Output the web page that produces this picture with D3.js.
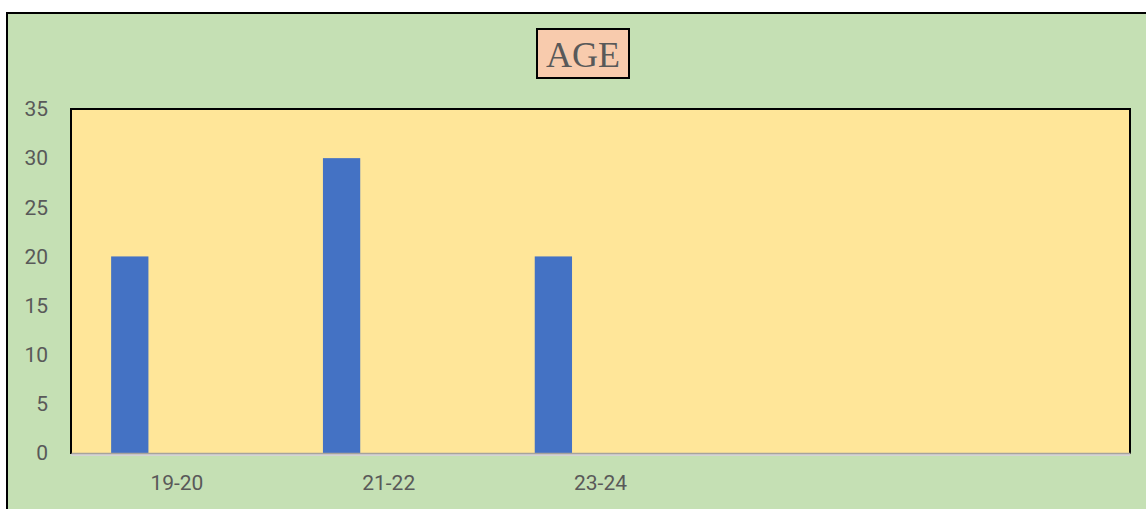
<!DOCTYPE html>
<html>
<head>
<meta charset="utf-8">
<script src="https://cdn.jsdelivr.net/npm/d3@7"></script>
<style>
  html, body { margin: 0; padding: 0; background: #fff; }
  svg { display: block; }
</style>
</head>
<body>
<div id="chart"></div>
<script>
// age groups on the x axis (last two slots are empty in the source sheet)
const ageGroups = ['19-20', '21-22', '23-24', '', ''];
const counts = [20, 30, 20, null, null];
const yTicks = [0, 5, 10, 15, 20, 25, 30, 35];
const title = 'AGE';

const width = 1146;
const height = 509;
const plot = { left: 71, right: 1130, top: 109, bottom: 453 };

const svg = d3
  .select('#chart')
  .append('svg')
  .attr('width', width)
  .attr('height', height)
  .attr('viewBox', [0, 0, width, height]);

// outer chart area (runs off the right and bottom edges)
svg
  .append('rect')
  .attr('x', 7)
  .attr('y', 13)
  .attr('width', width + 20)
  .attr('height', height + 20)
  .attr('fill', '#C5E0B4')
  .attr('stroke', '#000')
  .attr('stroke-width', 2);

const x = d3
  .scaleBand()
  .domain(ageGroups.map((d, i) => i))
  .range([plot.left, plot.right])
  .padding(0);

// single series sits left of centre in each slot, like the excel clustered column
const xInner = d3
  .scaleBand()
  .domain(['count'])
  .range([0, x.bandwidth()])
  .paddingInner(0)
  .paddingOuter(2.34)
  .align(0.23);

const y = d3.scaleLinear().domain([0, 35]).range([plot.bottom, plot.top]);

// plot area
svg
  .append('rect')
  .attr('x', plot.left)
  .attr('y', plot.top)
  .attr('width', plot.right - plot.left)
  .attr('height', plot.bottom - plot.top)
  .attr('fill', '#FFE699');

svg
  .append('g')
  .selectAll('rect')
  .data(counts.map((v, i) => ({ i, v })).filter((d) => d.v != null))
  .join('rect')
  .attr('x', (d) => x(d.i) + xInner('count'))
  .attr('width', xInner.bandwidth())
  .attr('y', (d) => y(d.v))
  .attr('height', (d) => y(0) - y(d.v))
  .attr('fill', '#4472C4');

// plot border: black on top/left/right
svg
  .append('path')
  .attr(
    'd',
    `M${plot.left},${plot.bottom + 1}V${plot.top}H${plot.right}V${plot.bottom + 1}`,
  )
  .attr('fill', 'none')
  .attr('stroke', '#000')
  .attr('stroke-width', 2);

// soft shadow under the axis line
svg
  .append('line')
  .attr('x1', plot.left)
  .attr('x2', plot.right)
  .attr('y1', plot.bottom + 2)
  .attr('y2', plot.bottom + 2)
  .attr('stroke', '#D4D4D4')
  .attr('stroke-width', 2);

const xAxis = svg
  .append('g')
  .attr('transform', `translate(0,${plot.bottom})`)
  .call(
    d3
      .axisBottom(x)
      .tickSize(0)
      .tickPadding(22)
      .tickFormat((i) => ageGroups[i]),
  );
xAxis.select('.domain').attr('stroke', '#A6A39C').attr('stroke-width', 1.5);

const yAxis = svg
  .append('g')
  .attr('transform', `translate(${plot.left - 23},0)`)
  .call(d3.axisLeft(y).tickValues(yTicks).tickSize(0).tickPadding(0));
yAxis.select('.domain').remove();

function applyAxisStyle(g) {
  g.selectAll('text')
    .attr('fill', '#595959')
    .style('font-family', 'Roboto, "Noto Sans", sans-serif')
    .style('font-size', '21px');
}
applyAxisStyle(xAxis);
applyAxisStyle(yAxis);

// title box
const tg = svg.append('g');
tg.append('rect')
  .attr('x', 537)
  .attr('y', 29)
  .attr('width', 92)
  .attr('height', 49)
  .attr('fill', '#F8CBAD')
  .attr('stroke', '#000')
  .attr('stroke-width', 2);
tg.append('text')
  .attr('x', 583)
  .attr('y', 67)
  .attr('text-anchor', 'middle')
  .attr('fill', '#595959')
  .style('font-family', '"Liberation Serif", "Times New Roman", serif')
  .style('font-size', '36px')
  .text(title);
</script>
</body>
</html>
